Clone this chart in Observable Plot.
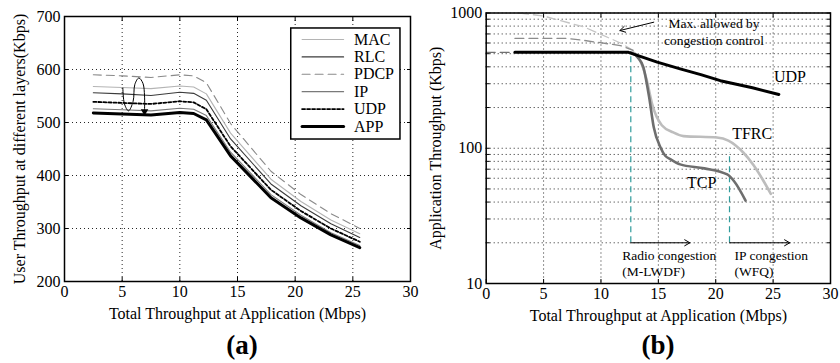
<!DOCTYPE html>
<html>
<head>
<meta charset="utf-8">
<script src="https://cdn.jsdelivr.net/npm/d3@7"></script>
<script src="https://cdn.jsdelivr.net/npm/@observablehq/plot@0.6"></script>
<style>
  html, body { margin: 0; padding: 0; background: #fff; }
  body { width: 840px; height: 363px; overflow: hidden; font-family: "Liberation Serif", "Times New Roman", serif; }
  #wrap { display: flex; width: 840px; }
  .panel { width: 420px; height: 363px; position: relative; }
  .panel svg { overflow: visible; }
  .cap { position: absolute; width: 100px; text-align: center; font-weight: bold; font-size: 27px; line-height: 30px; color: #000; }
</style>
</head>
<body>
<div id="wrap">
  <div class="panel" id="pa"><div class="cap" id="capA" style="left:192px; top:330px;">(a)</div></div>
  <div class="panel" id="pb"><div class="cap" id="capB" style="left:188px; top:330px;">(b)</div></div>
</div>
<script>
// ---------- Panel (a) data ----------
const layerX = [2.5, 5, 7.5, 10, 11.2, 12.3, 14.4, 17.9, 20.5, 23.1, 25.6];
const macY  = [568, 566, 564, 569, 567, 554, 480, 393, 351, 316, 290];
const rlcY  = [556, 554, 551, 557, 555, 542, 469, 384, 343, 309, 283];
const pdcpY = [590, 588, 585, 590, 588, 575, 498, 408, 364, 328, 300];
const ipY   = [526, 524, 522, 527, 525, 513, 444, 364, 325, 292, 268];
const udpY  = [539, 537, 535, 540, 538, 525, 455, 373, 333, 300, 275];
const appY  = [518, 516, 514, 519, 517, 505, 437, 358, 320, 288, 264];
const layerNames = ["MAC", "RLC", "PDCP", "IP", "UDP", "APP"];
const layerValues = [macY, rlcY, pdcpY, ipY, udpY, appY];
const xTicks = [0, 5, 10, 15, 20, 25, 30];
const leftYTicks = [200, 300, 400, 500, 600, 700];
// loop-arrow annotation path (data units)
const loopX = [5.06, 5.2, 5.55, 5.95, 6.1, 6.45, 6.8, 6.94, 6.94];
const loopY = [565, 535, 522, 540, 572, 584, 574, 550, 524];

// ---------- Panel (b) data ----------
const udpBX = [2.5, 12.4, 14.9, 16.9, 18.7, 20.4, 23.2, 25.5];
const udpBY = [512, 512, 433, 386, 350, 316, 280, 250];
const tcpX = [12.6, 13.2, 13.7, 14.2, 14.6, 15.2, 15.6, 16.05, 16.9, 19.0, 21.0, 21.6, 22.6];
const tcpY = [512, 470, 397, 238, 143, 101, 88, 83, 76, 71, 64, 57, 41];
const tfrcX = [12.8, 13.0, 13.6, 14.0, 14.46, 15.3, 16.3, 17.2, 20.1, 21.1, 22.4, 23.3, 24.8];
const tfrcY = [512, 499, 408, 316, 212, 148, 131, 123, 120, 114, 93, 75, 46];
const tfrcMaxX = [2.9, 5.0, 5.9, 8.5, 11.7, 12.8];
const tfrcMaxY = [1000, 950, 905, 790, 600, 530];
const tcpMaxX = [2.5, 7.0, 8.2, 11.7, 12.8];
const tcpMaxY = [650, 650, 633, 574, 530];
const udpRateX = [0, 2.5];
const udpRateY = [512, 512];
const radioX = 12.6, ipX = 21.2;
const rightYTicks = [10, 100, 512, 1000];

const FONT = '"Liberation Serif", "Times New Roman", serif';
const dotted = {stroke: "#000", strokeOpacity: 0.85, strokeDasharray: "1,3", strokeWidth: 1};
const zip = (xs, ys) => xs.map((x, i) => ({x, y: ys[i]}));

// ---------- Panel (a) ----------
const layerStyle = {
  MAC:  {stroke: "#b4b4b4", strokeWidth: 1.1},
  RLC:  {stroke: "#3c3c3c", strokeWidth: 1.1},
  PDCP: {stroke: "#8a8a8a", strokeWidth: 1.1, strokeDasharray: "8,5"},
  IP:   {stroke: "#7a7a7a", strokeWidth: 1.1},
  UDP:  {stroke: "#000",    strokeWidth: 1.8, strokeDasharray: "3,2"},
  APP:  {stroke: "#000",    strokeWidth: 3}
};
// legend layout (data units of panel a)
const LG = {x1: 19.66, x2: 29.13, y1: 467.9, y2: 677.4, lx1: 20.6, lx2: 24.2, tx: 25.1, top: 656.6, step: 32.8};
const legendRows = layerNames.map((n, i) => ({name: n, y: LG.top - i * LG.step}));

const marksA = [
  Plot.gridX([5, 10, 15, 20, 25], dotted),
  Plot.gridY([300, 400, 500, 600], dotted),
];
layerNames.forEach((n, i) => {
  marksA.push(Plot.line(zip(layerX, layerValues[i]), {x: "x", y: "y", ...layerStyle[n]}));
});
marksA.push(
  Plot.line(zip(loopX, loopY), {x: "x", y: "y", curve: "catmull-rom", stroke: "#000", strokeWidth: 1}),
  Plot.dot([{x: loopX[loopX.length - 1], y: loopY[loopY.length - 1] - 3}], {x: "x", y: "y", symbol: "triangle2", rotate: 180, r: 3.6, fill: "#000", stroke: "none"}),
  Plot.rect([LG], {x1: "x1", x2: "x2", y1: "y1", y2: "y2", fill: "white", stroke: "#000", strokeWidth: 1.5}),
);
legendRows.forEach(r => {
  marksA.push(Plot.line([{x: LG.lx1, y: r.y}, {x: LG.lx2, y: r.y}], {x: "x", y: "y", ...layerStyle[r.name]}));
});
marksA.push(
  Plot.text(legendRows, {x: () => LG.tx, y: "y", text: "name", textAnchor: "start", fontSize: 16, fill: "#000"}),
  Plot.axisX(xTicks, {tickSize: -4, tickPadding: 8, label: null, fontSize: 16}),
  Plot.axisX(xTicks, {anchor: "top", tickSize: -4, tickFormat: () => "", label: null}),
  Plot.axisY(leftYTicks, {tickSize: -4, tickPadding: 8, label: null, fontSize: 16}),
  Plot.axisY(leftYTicks, {anchor: "right", tickSize: -4, tickFormat: () => "", label: null}),
  Plot.frame({stroke: "#000", strokeWidth: 1.5}),
  Plot.text(["Total Throughput at Application (Mbps)"], {text: d => d, frameAnchor: "bottom", textAnchor: "middle", dy: 32, lineAnchor: "middle", fontSize: 16, fill: "#000"}),
  Plot.text(["User Throughput at different layers(Kbps)"], {text: d => d, frameAnchor: "left", textAnchor: "middle", dx: -45, rotate: -90, lineAnchor: "middle", fontSize: 16, fill: "#000"})
);

const plotA = Plot.plot({
  width: 420, height: 325,
  marginLeft: 64, marginRight: 10, marginTop: 16, marginBottom: 44,
  style: {fontFamily: FONT, fontSize: "16px", color: "#000", background: "white", overflow: "visible"},
  x: {domain: [0, 30]},
  y: {domain: [200, 700]},
  marks: marksA
});

// ---------- Panel (b) ----------
const logGrid = [];
for (const d of [10, 100]) for (let k = 2; k <= 10; k++) logGrid.push(k * d);
const teal = "#2f9c9c";

const plotB = Plot.plot({
  width: 420, height: 325,
  marginLeft: 65.7, marginRight: 10, marginTop: 12.5, marginBottom: 42,
  style: {fontFamily: FONT, fontSize: "16px", color: "#000", background: "white", overflow: "visible"},
  x: {domain: [0, 30]},
  y: {type: "log", domain: [10, 1000]},
  marks: [
    Plot.gridX([5, 10, 15, 20, 25], dotted),
    Plot.gridY(logGrid, dotted),
    Plot.line(zip(tfrcMaxX, tfrcMaxY), {x: "x", y: "y", stroke: "#c4c4c4", strokeWidth: 1.3, strokeDasharray: "9,5"}),
    Plot.line(zip(tcpMaxX, tcpMaxY), {x: "x", y: "y", stroke: "#8c8c8c", strokeWidth: 1.3, strokeDasharray: "9,5"}),
    Plot.line(zip(udpRateX, udpRateY), {x: "x", y: "y", stroke: "#707070", strokeWidth: 1.3, strokeDasharray: "9,5"}),
    Plot.ruleX([{x: radioX, y1: 20, y2: 512}, {x: ipX, y1: 20, y2: 93}], {x: "x", y1: "y1", y2: "y2", stroke: teal, strokeWidth: 1.2, strokeDasharray: "6,4"}),
    Plot.arrow([{x1: radioX, x2: 17.75, y: 20}, {x1: ipX, x2: 26.45, y: 20}], {x1: "x1", x2: "x2", y1: "y", y2: "y", stroke: "#000", strokeWidth: 1, headLength: 9}),
    Plot.arrow([{x1: 14.6, y1: 855, x2: 11.65, y2: 742}], {x1: "x1", y1: "y1", x2: "x2", y2: "y2", stroke: "#000", strokeWidth: 1, headLength: 9}),
    Plot.line(zip(tfrcX, tfrcY), {x: "x", y: "y", stroke: "#bdbdbd", strokeWidth: 2.6, curve: "monotone-x"}),
    Plot.line(zip(tcpX, tcpY), {x: "x", y: "y", stroke: "#6e6e6e", strokeWidth: 2.6, curve: "monotone-x"}),
    Plot.line(zip(udpBX, udpBY), {x: "x", y: "y", stroke: "#000", strokeWidth: 3}),
    Plot.text([{t: "UDP", x: 25.07, y: 339}, {t: "TFRC", x: 21.43, y: 127}, {t: "TCP", x: 17.5, y: 55}], {x: "x", y: "y", text: "t", textAnchor: "start", fontSize: 16, fill: "#000"}),
    Plot.text([{t: "Max. allowed by", x: 19.85, y: 832}, {t: "congestion control", x: 19.85, y: 626}], {x: "x", y: "y", text: "t", textAnchor: "middle", fontSize: 13.5, fill: "#000"}),
    Plot.text([{t: "Radio congestion", x: 11.85, y: 16}, {t: "(M-LWDF)", x: 11.85, y: 12.2}, {t: "IP congestion", x: 21.64, y: 16}, {t: "(WFQ)", x: 21.64, y: 12.2}], {x: "x", y: "y", text: "t", textAnchor: "start", fontSize: 13.5, fill: "#000"}),
    Plot.axisX(xTicks, {tickSize: -4, tickPadding: 8, label: null, fontSize: 16}),
    Plot.axisX(xTicks, {anchor: "top", tickSize: -4, tickFormat: () => "", label: null}),
    Plot.axisY(rightYTicks, {tickSize: 0, tickPadding: 4, label: null, fontSize: 16, tickFormat: d3.format("d")}),
    Plot.axisY(logGrid, {tickSize: -4, tickFormat: () => "", label: null}),
    Plot.axisY(logGrid, {anchor: "right", tickSize: -4, tickFormat: () => "", label: null}),
    Plot.frame({stroke: "#000", strokeWidth: 1.5}),
    Plot.text(["Total Throughput at Application (Mbps)"], {text: d => d, frameAnchor: "bottom", textAnchor: "middle", dy: 32, lineAnchor: "middle", fontSize: 16, fill: "#000"}),
    Plot.text(["Application Throughput (Kbps)"], {text: d => d, frameAnchor: "left", textAnchor: "middle", dx: -50.7, rotate: -90, lineAnchor: "middle", fontSize: 16, fill: "#000"})
  ]
});

document.getElementById("pa").prepend(plotA);
document.getElementById("pb").prepend(plotB);
</script>
</body>
</html>
